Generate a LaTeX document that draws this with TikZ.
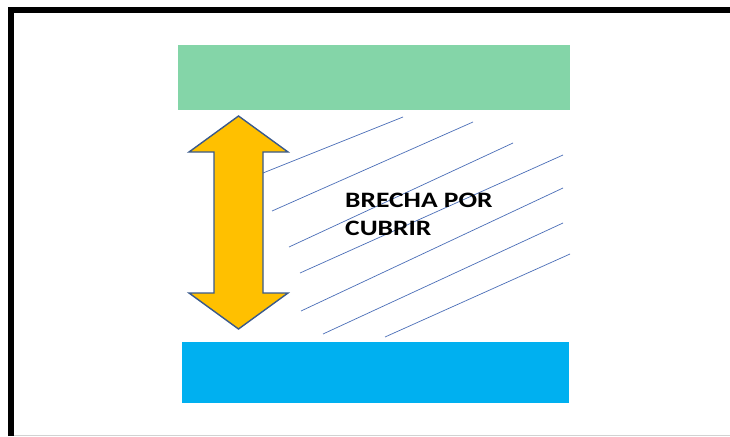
\documentclass[tikz,border=0pt]{standalone}
\usepackage{fontspec}
\setmainfont{Carlito}
\definecolor{bargreen}{HTML}{84D5A8}
\definecolor{barblue}{HTML}{00B0F0}
\definecolor{arrowfill}{HTML}{FFC000}
\definecolor{arrowline}{HTML}{3A5A8C}
\definecolor{hatch}{HTML}{4A6EB8}
\begin{document}
\begin{tikzpicture}[x=1pt,y=-1pt,
  bar/.style={draw=none,inner sep=0pt,outer sep=0pt},
  hatchline/.style={draw=hatch,line width=0.7pt},
  label/.style={inner sep=0pt,anchor=base west,font=\fontsize{22}{28}\selectfont\bfseries}]
\useasboundingbox (0,0) rectangle (730,436);
\fill[white] (0,0) rectangle (730,436);
% frame
\draw[line width=6pt] (11,436) -- (11,10) -- (730,10);
\draw[gray!35,line width=1pt] (14,435.5) -- (730,435.5);
% bars
\node[bar,fill=bargreen,minimum width=392pt,minimum height=65pt] (topbar) at (374,77.5) {};
\node[bar,fill=barblue,minimum width=387pt,minimum height=61pt] (botbar) at (375.5,372.5) {};
% hatch lines
\coordinate (a1) at (263,173); \coordinate (b1) at (403,117);
\coordinate (a2) at (272,211); \coordinate (b2) at (473,122);
\coordinate (a3) at (289,247); \coordinate (b3) at (513,143);
\coordinate (a4) at (300,273); \coordinate (b4) at (563,155);
\coordinate (a5) at (301,311); \coordinate (b5) at (563,188);
\coordinate (a6) at (323,334); \coordinate (b6) at (563,223);
\coordinate (a7) at (385,337); \coordinate (b7) at (570,254);
\foreach \i in {1,...,7} \draw[hatchline] (a\i) -- (b\i);
% double arrow
\draw[fill=arrowfill,draw=arrowline,line width=1.4pt,line join=miter]
  (238.5,116) -- (288,152) -- (263,152) -- (263,293) -- (288,293) -- (238.5,329)
  -- (189,293) -- (214,293) -- (214,152) -- (189,152) -- cycle;
% text
\node[label] (t1) at (345,207) {\scalebox{1.25}[1]{BRECHA POR}};
\node[label] (t2) at (345,235) {\scalebox{1.25}[1]{CUBRIR}};
\end{tikzpicture}
\end{document}
